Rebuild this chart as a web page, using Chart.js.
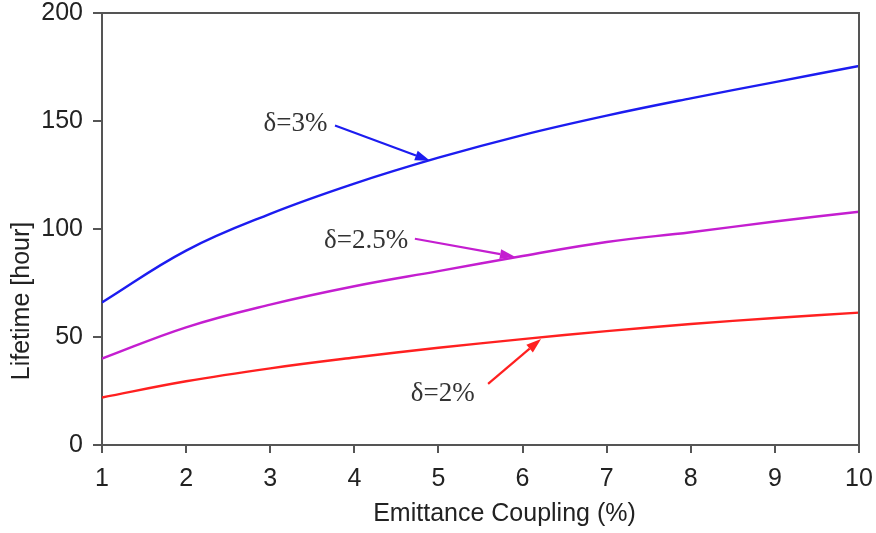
<!DOCTYPE html>
<html>
<head>
<meta charset="utf-8">
<script src="https://cdn.jsdelivr.net/npm/chart.js@4.4.1/dist/chart.umd.min.js"></script>
<style>
  html, body { margin: 0; padding: 0; background: #fff; }
</style>
</head>
<body>
<canvas id="lifetimeChart" width="876" height="533"></canvas>
<script>
// emittance coupling (%) on the x axis
const coupling = [1, 2, 3, 4, 5, 6, 7, 8, 9, 10];
// lifetime in hours
const delta3 = [66, 90, 107, 121, 133, 143.5, 152.5, 160.5, 168, 175.5];
const delta25 = [40, 54.5, 65, 73.5, 80.5, 87.5, 94, 98.5, 103.5, 108];
const delta2 = [22, 29.5, 35.5, 40.5, 45, 49, 52.7, 56, 58.8, 61.3];

const xTicks = [1, 2, 3, 4, 5, 6, 7, 8, 9, 10];
const yTicks = [0, 50, 100, 150, 200];

// annotation labels and arrows, in data units
const noteText = ['δ=3%', 'δ=2.5%', 'δ=2%'];
const noteColor = ['#1c1cf0', '#c41ed0', '#ff2020'];
const notePos = [[3.3, 148.8], [4.14, 94.6], [5.05, 23.6]];
const arrowFrom = [[3.77, 147.9], [4.72, 95.5], [5.59, 28.3]];
const arrowTo = [[4.9, 131.6], [5.91, 87.1], [6.22, 49.1]];

function pts(ys) {
    return coupling.map((x, i) => ({ x: x, y: ys[i] }));
}

const axisFont = { family: 'Liberation Sans, Arial, sans-serif', size: 25 };

const extras = {
    id: 'extras',
    afterDraw(chart) {
        const ctx = chart.ctx;
        const a = chart.chartArea;
        const xs = chart.scales.x, ys = chart.scales.y;
        ctx.save();
        // frame top and right
        ctx.strokeStyle = '#555';
        ctx.lineWidth = 2;
        ctx.beginPath();
        ctx.moveTo(a.left, a.top);
        ctx.lineTo(a.right, a.top);
        ctx.lineTo(a.right, a.bottom);
        ctx.stroke();

        // axis titles
        ctx.fillStyle = '#222';
        ctx.font = '25px Liberation Sans, Arial, sans-serif';
        ctx.textAlign = 'center';
        ctx.textBaseline = 'middle';
        ctx.fillText('Emittance Coupling (%)', (a.left + a.right) / 2 + 24, 514);
        ctx.save();
        ctx.translate(22, 301);
        ctx.rotate(-Math.PI / 2);
        ctx.fillText('Lifetime [hour]', 0, 0);
        ctx.restore();

        // annotations
        ctx.font = '27px Liberation Serif, Times New Roman, serif';
        for (let i = 0; i < noteText.length; i++) {
            ctx.fillStyle = '#333';
            ctx.fillText(noteText[i], xs.getPixelForValue(notePos[i][0]), ys.getPixelForValue(notePos[i][1]));
            const x1 = xs.getPixelForValue(arrowFrom[i][0]), y1 = ys.getPixelForValue(arrowFrom[i][1]);
            const x2 = xs.getPixelForValue(arrowTo[i][0]), y2 = ys.getPixelForValue(arrowTo[i][1]);
            const ang = Math.atan2(y2 - y1, x2 - x1);
            const len = 15, half = 5;
            ctx.strokeStyle = noteColor[i];
            ctx.fillStyle = noteColor[i];
            ctx.lineWidth = 2.2;
            ctx.beginPath();
            ctx.moveTo(x1, y1);
            ctx.lineTo(x2 - len * Math.cos(ang), y2 - len * Math.sin(ang));
            ctx.stroke();
            ctx.beginPath();
            ctx.moveTo(x2, y2);
            ctx.lineTo(x2 - len * Math.cos(ang) + half * Math.sin(ang), y2 - len * Math.sin(ang) - half * Math.cos(ang));
            ctx.lineTo(x2 - len * Math.cos(ang) - half * Math.sin(ang), y2 - len * Math.sin(ang) + half * Math.cos(ang));
            ctx.closePath();
            ctx.fill();
        }
        ctx.restore();
    }
};

new Chart(document.getElementById('lifetimeChart'), {
    type: 'line',
    data: {
        datasets: [
            { label: 'δ=3%', data: pts(delta3), borderColor: noteColor[0] },
            { label: 'δ=2.5%', data: pts(delta25), borderColor: noteColor[1] },
            { label: 'δ=2%', data: pts(delta2), borderColor: noteColor[2] }
        ]
    },
    options: {
        responsive: false,
        animation: false,
        devicePixelRatio: 1,
        layout: { padding: { top: 13, right: 17, left: 0, bottom: 0 } },
        elements: {
            line: { borderWidth: 2.4, tension: 0.4, fill: false },
            point: { radius: 0 }
        },
        plugins: { legend: { display: false }, tooltip: { enabled: false } },
        scales: {
            x: {
                type: 'linear',
                min: 1,
                max: 10,
                afterFit(scale) {
                    scale.height = 88;
                    scale.paddingLeft = 0;
                    scale.paddingRight = 0;
                },
                afterBuildTicks(scale) { scale.ticks = xTicks.map(v => ({ value: v })); },
                grid: { drawOnChartArea: false, tickLength: 8, color: '#555', lineWidth: 2 },
                border: { color: '#555', width: 2 },
                ticks: { color: '#222', font: axisFont, padding: 11, maxRotation: 0 }
            },
            y: {
                min: 0,
                max: 200,
                afterFit(scale) {
                    scale.width = 102;
                    scale.paddingTop = 0;
                    scale.paddingBottom = 0;
                },
                afterBuildTicks(scale) { scale.ticks = yTicks.map(v => ({ value: v })); },
                grid: { drawOnChartArea: false, tickLength: 9, color: '#555', lineWidth: 2 },
                border: { color: '#555', width: 2 },
                ticks: { color: '#222', font: axisFont, padding: 10 }
            }
        }
    },
    plugins: [extras]
});
</script>
</body>
</html>
